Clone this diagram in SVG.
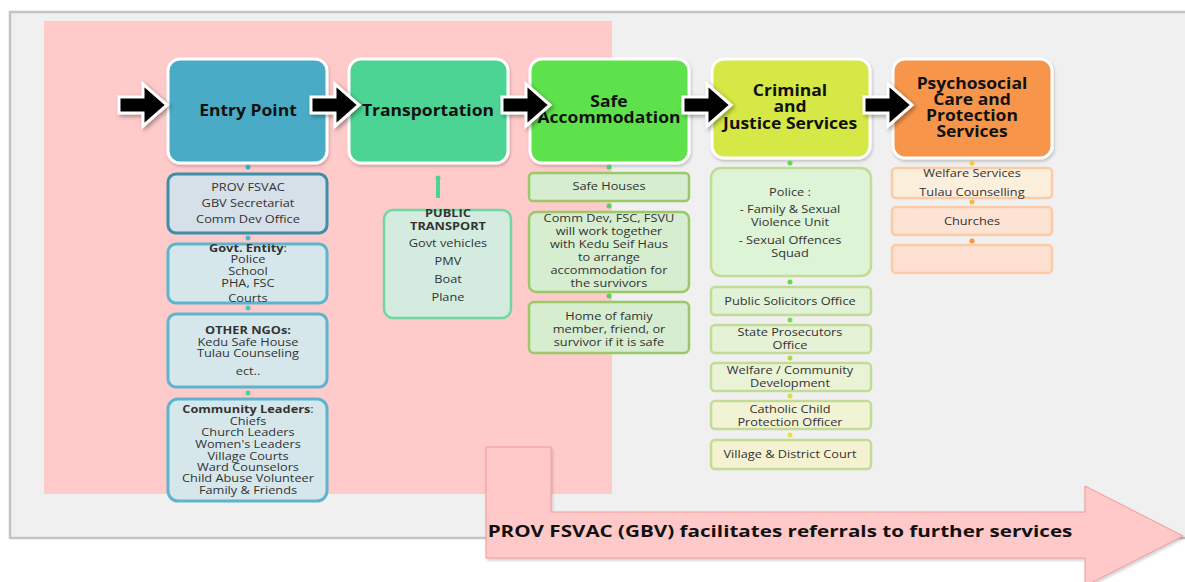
<svg xmlns="http://www.w3.org/2000/svg" width="1185" height="582" viewBox="0 0 1185 582">
<defs>
<filter id="sh" x="-20%" y="-20%" width="150%" height="160%">
<feDropShadow dx="2" dy="2" stdDeviation="2" flood-color="#000" flood-opacity="0.35"/>
</filter>
<filter id="sh2" x="-5%" y="-5%" width="110%" height="120%">
<feDropShadow dx="1" dy="2" stdDeviation="1.5" flood-color="#000" flood-opacity="0.2"/>
</filter>
<path id="blk" d="M0,-8 H24 V-21 L48,0 L24,21 V8 H0 Z"/>
</defs>
<style>
text{font-family:"Open Sans","Liberation Sans",Arial,sans-serif;text-anchor:middle;transform-box:fill-box;transform-origin:50% 50%;}
.h{font-size:15.5px;font-weight:bold;fill:#111;transform:scaleX(1.13);}
.s{font-size:11px;fill:#333;transform:scaleX(1.16);}
.big{font-size:16.5px;font-weight:bold;fill:#111;transform:scaleX(1.25);}
.b{font-weight:bold;}
.hd{stroke:#fff;stroke-width:3;filter:url(#sh2);}
.ba{fill:#000;stroke:#fff;stroke-width:3;filter:url(#sh);}
.e1{fill:#d5e0e8;stroke:#3d8ea8;stroke-width:3;}
.e2{fill:#d6e7ec;stroke:#5cb5d0;stroke-width:3;}
.tr{fill:#d3ecdf;stroke:#70d6a2;stroke-width:2.5;}
.sa{fill:#d6edd0;stroke:#9dc868;stroke-width:2.5;}
.cj{stroke:#c2dc96;stroke-width:2.5;}
.ps{stroke:#fbcaa6;stroke-width:2.5;}
</style>
<rect x="0" y="0" width="1185" height="582" fill="#fff"/>
<rect x="10" y="12" width="1190" height="526" fill="#f0f0f0" stroke="#c4c4c4" stroke-width="2.5"/>
<rect x="44" y="21" width="568" height="473" fill="#ffcaca"/>

<g id="entry">
<rect class="hd" x="168" y="59" width="159" height="104" rx="12" fill="#4aabc6"/>
<text class="h" x="248" y="116">Entry Point</text>
</g>
<g id="entry-1">
<rect class="e1" x="168" y="174" width="159" height="59" rx="8"/>
<text class="s" x="248" y="191">PROV FSVAC</text>
<text class="s" x="248" y="207">GBV Secretariat</text>
<text class="s" x="248" y="223">Comm Dev Office</text>
</g>
<g id="entry-2">
<rect class="e2" x="168" y="244" width="159" height="59" rx="8"/>
<text class="s" x="248" y="252"><tspan class="b">Govt. Entity</tspan>:</text>
<text class="s" x="248" y="263">Police</text>
<text class="s" x="248" y="275">School</text>
<text class="s" x="248" y="287">PHA, FSC</text>
<text class="s" x="248" y="302">Courts</text>
</g>
<g id="entry-3">
<rect class="e2" x="168" y="314" width="159" height="73" rx="8" fill="#d5e9e8"/>
<text class="s b" x="248" y="334">OTHER NGOs:</text>
<text class="s" x="248" y="346">Kedu Safe House</text>
<text class="s" x="248" y="357">Tulau Counseling</text>
<text class="s" x="248" y="375">ect..</text>
</g>
<g id="entry-4">
<rect class="e2" x="168" y="399" width="159" height="102" rx="10" fill="#d4e9e4"/>
<text class="s" x="248" y="413"><tspan class="b">Community Leaders</tspan>:</text>
<text class="s" x="248" y="425">Chiefs</text>
<text class="s" x="248" y="436">Church Leaders</text>
<text class="s" x="248" y="448">Women's Leaders</text>
<text class="s" x="248" y="460">Village Courts</text>
<text class="s" x="248" y="471">Ward Counselors</text>
<text class="s" x="248" y="482">Child Abuse Volunteer</text>
<text class="s" x="248" y="494">Family &amp; Friends</text>
</g>

<g id="transport">
<rect class="hd" x="349" y="59" width="159" height="104" rx="12" fill="#4bd494"/>
<text class="h" x="428" y="116">Transportation</text>
</g>
<g id="transport-1">
<rect class="tr" x="384" y="210" width="127" height="108" rx="9"/>
<text class="s b" x="448" y="217">PUBLIC</text>
<text class="s b" x="448" y="230">TRANSPORT</text>
<text class="s" x="448" y="247">Govt vehicles</text>
<text class="s" x="448" y="265">PMV</text>
<text class="s" x="448" y="283">Boat</text>
<text class="s" x="448" y="301">Plane</text>
</g>

<g id="safe">
<rect class="hd" x="530" y="59" width="159" height="104" rx="12" fill="#5de24b"/>
<text class="h" x="609" y="107">Safe</text>
<text class="h" x="609" y="123">Accommodation</text>
</g>
<g id="safe-1">
<rect class="sa" x="529" y="173" width="160" height="28" rx="4"/>
<text class="s" x="609" y="190">Safe Houses</text>
</g>
<g id="safe-2">
<rect class="sa" x="529" y="212" width="160" height="80" rx="7"/>
<text class="s" x="609" y="222">Comm Dev, FSC, FSVU</text>
<text class="s" x="609" y="235">will work together</text>
<text class="s" x="609" y="248">with Kedu Seif Haus</text>
<text class="s" x="609" y="261">to arrange</text>
<text class="s" x="609" y="274">accommodation for</text>
<text class="s" x="609" y="287">the survivors</text>
</g>
<g id="safe-3">
<rect class="sa" x="529" y="302" width="160" height="51" rx="5"/>
<text class="s" x="609" y="320">Home of famiy</text>
<text class="s" x="609" y="333">member, friend, or</text>
<text class="s" x="609" y="346">survivor if it is safe</text>
</g>

<g id="criminal">
<rect class="hd" x="712" y="59" width="158" height="99" rx="12" fill="#d5e845"/>
<text class="h" x="790" y="96">Criminal</text>
<text class="h" x="790" y="112">and</text>
<text class="h" x="790" y="129">Justice Services</text>
</g>
<g id="criminal-1">
<rect class="cj" x="711" y="168" width="160" height="108" rx="10" fill="#ddf4d6" stroke="#c8e6aa"/>
<text class="s" x="790" y="196">Police :</text>
<text class="s" x="790" y="213">- Family &amp; Sexual</text>
<text class="s" x="790" y="226">Violence Unit</text>
<text class="s" x="790" y="244">- Sexual Offences</text>
<text class="s" x="790" y="257">Squad</text>
</g>
<g id="criminal-2">
<rect class="cj" x="711" y="287" width="160" height="28" rx="4" fill="#e1f2d6"/>
<text class="s" x="790" y="305">Public Solicitors Office</text>
</g>
<g id="criminal-3">
<rect class="cj" x="711" y="325" width="160" height="28" rx="4" fill="#e5f2d6"/>
<text class="s" x="790" y="336">State Prosecutors</text>
<text class="s" x="790" y="349">Office</text>
</g>
<g id="criminal-4">
<rect class="cj" x="711" y="363" width="160" height="28" rx="4" fill="#eaf3d6"/>
<text class="s" x="790" y="374">Welfare / Community</text>
<text class="s" x="790" y="387">Development</text>
</g>
<g id="criminal-5">
<rect class="cj" x="711" y="401" width="160" height="28" rx="4" fill="#f2f2d4"/>
<text class="s" x="790" y="413">Catholic Child</text>
<text class="s" x="790" y="426">Protection Officer</text>
</g>
<g id="criminal-6">
<rect class="cj" x="711" y="440" width="160" height="29" rx="4" fill="#f5f2d2"/>
<text class="s" x="790" y="458">Village &amp; District Court</text>
</g>

<g id="psych">
<rect class="hd" x="893" y="59" width="159" height="99" rx="12" fill="#f7964b"/>
<text class="h" x="972" y="89">Psychosocial</text>
<text class="h" x="972" y="105">Care and</text>
<text class="h" x="972" y="121">Protection</text>
<text class="h" x="972" y="137">Services</text>
</g>
<g id="psych-1">
<rect class="ps" x="892" y="168" width="160" height="30" rx="4" fill="#fcefdc"/>
<text class="s" x="972" y="177">Welfare Services</text>
<text class="s" x="972" y="196">Tulau Counselling</text>
</g>
<g id="psych-2">
<rect class="ps" x="892" y="207" width="160" height="28" rx="4" fill="#fce3d4"/>
<text class="s" x="972" y="225">Churches</text>
</g>
<g id="psych-3">
<rect class="ps" x="892" y="245" width="160" height="28" rx="4" fill="#fde0d2"/>
</g>

<g id="referral">
<path d="M486,447 H551 V512 H1085 V486 L1183,536 L1085,586 V558 H486 Z" fill="#ffc9c9" stroke="#f09a9a" stroke-width="1" filter="url(#sh2)"/>
<text class="big" x="780" y="537">PROV FSVAC (GBV) facilitates referrals to further services</text>
</g>

<g id="connectors">
<use href="#blk" class="ba" transform="translate(119,105)"/>
<use href="#blk" class="ba" transform="translate(311,105)"/>
<use href="#blk" class="ba" transform="translate(502,105)"/>
<use href="#blk" class="ba" transform="translate(683,105)"/>
<use href="#blk" class="ba" transform="translate(864,105)"/>
<circle cx="248" cy="167" r="2.5" fill="#3fa8c4"/>
<circle cx="248" cy="238" r="2.5" fill="#45bcc8"/>
<circle cx="248" cy="308" r="2.5" fill="#48c4c0"/>
<circle cx="248" cy="393" r="2.5" fill="#4dd0a0"/>
<circle cx="438" cy="178" r="2.5" fill="#4bd494"/>
<rect x="436" y="178" width="4" height="20" fill="#4bd494"/>
<circle cx="609" cy="167" r="2.5" fill="#4bd070"/>
<circle cx="609" cy="206" r="2.5" fill="#55d060"/>
<circle cx="609" cy="296" r="2.5" fill="#5dd055"/>
<circle cx="790" cy="163" r="2.5" fill="#5ed850"/>
<circle cx="790" cy="282" r="2.5" fill="#66da48"/>
<circle cx="790" cy="320" r="2.5" fill="#78dc44"/>
<circle cx="790" cy="358" r="2.5" fill="#a8e040"/>
<circle cx="790" cy="396" r="2.5" fill="#d0e440"/>
<circle cx="790" cy="435" r="2.5" fill="#eee040"/>
<circle cx="972" cy="163" r="2.5" fill="#f5c842"/>
<circle cx="972" cy="202" r="2.5" fill="#f6b840"/>
<circle cx="972" cy="241" r="2.5" fill="#f79444"/>
</g>
</svg>
